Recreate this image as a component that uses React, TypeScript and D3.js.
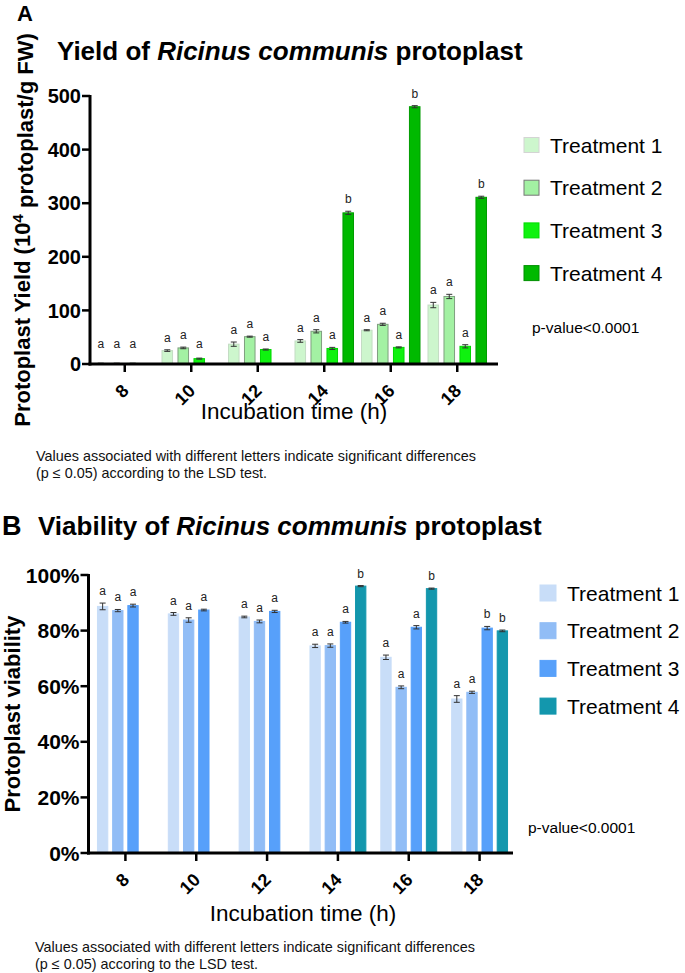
import React from "react";
import * as d3 from "d3";

const FONT = "'Liberation Sans', Arial, Helvetica, sans-serif";

const hours = ["8", "10", "12", "14", "16", "18"];
const treatments = ["Treatment 1", "Treatment 2", "Treatment 3", "Treatment 4"];

// Panel A: protoplast yield (10^4 protoplast / g FW)
const yieldT1 = [1, 25, 37, 43, 63, 110];
const yieldT2 = [1, 30, 51, 61, 74, 126];
const yieldT3 = [1, 10, 27, 29, 31, 33];
const yieldT4 = [null, null, null, 282, 480, 311];
const yieldErrT1 = [0.5, 1.5, 4, 2.5, 1, 5];
const yieldErrT2 = [0.5, 1.5, 1, 3, 2, 4];
const yieldErrT3 = [0.5, 1, 1, 2, 1, 3];
const yieldErrT4 = [null, null, null, 3, 2, 2];
const yieldLetT1 = ["a", "a", "a", "a", "a", "a"];
const yieldLetT2 = ["a", "a", "a", "a", "a", "a"];
const yieldLetT3 = ["a", "a", "a", "a", "a", "a"];
const yieldLetT4 = ["", "", "", "b", "b", "b"];
const yieldTicks = [0, 100, 200, 300, 400, 500];

// Panel B: protoplast viability (%)
const viabT1 = [88.7, 86.0, 84.9, 74.5, 70.4, 55.4];
const viabT2 = [87.2, 83.8, 83.3, 74.6, 59.6, 57.8];
const viabT3 = [89.0, 87.4, 86.9, 83.0, 81.2, 80.9];
const viabT4 = [null, null, null, 96.0, 95.1, 79.9];
const viabErrT1 = [1.2, 0.5, 0.3, 0.6, 0.8, 1.2];
const viabErrT2 = [0.4, 0.8, 0.5, 0.6, 0.5, 0.4];
const viabErrT3 = [0.5, 0.3, 0.4, 0.3, 0.6, 0.6];
const viabErrT4 = [null, null, null, 0.2, 0.2, 0.3];
const viabLetT1 = ["a", "a", "a", "a", "a", "a"];
const viabLetT2 = ["a", "a", "a", "a", "a", "a"];
const viabLetT3 = ["a", "a", "a", "a", "a", "b"];
const viabLetT4 = ["", "", "", "b", "b", "b"];
const viabTicks = [0, 20, 40, 60, 80, 100];

const greenFill = ["#cdf6cd", "#a3f1a3", "#0ff20f", "#00b900"];
const greenStroke = ["#c4dcc4", "#7f9f7f", "#00d800", "#009c00"];
const blueFill = ["#c8ddf8", "#91bdf6", "#57a0fa", "#1397ad"];
const blueStroke = ["#c8ddf8", "#91bdf6", "#57a0fa", "#1397ad"];

function Panel(p: any) {
  const x0 = d3.scaleBand<string>().domain(hours).range(p.xRange);
  const x1 = d3
    .scaleBand<string>()
    .domain(treatments)
    .range([0, p.subSpan])
    .paddingInner(p.subPad);
  const off = (x0.bandwidth() - p.subSpan) / 2;
  const y = d3.scaleLinear().domain(p.yDomain).range(p.yRange);
  const y0 = y(0);
  const axisX = p.xRange[0] - 1.5;
  const bw = x1.bandwidth();

  const bars: any[] = [];
  p.series.forEach((vals: (number | null)[], si: number) => {
    vals.forEach((v, gi) => {
      if (v == null) return;
      const e = p.errors[si][gi] || 0;
      const bx = (x0(hours[gi]) as number) + off + (x1(treatments[si]) as number);
      const cx = bx + bw / 2;
      const yt = y(v);
      bars.push(
        <g key={`b${si}-${gi}`}>
          <rect
            x={bx}
            y={yt}
            width={bw}
            height={y0 - yt}
            fill={p.fills[si]}
            stroke={p.strokes[si]}
            strokeWidth={1}
          />
          <line x1={cx} x2={cx} y1={y(v + e)} y2={y(v - e)} stroke="#333" strokeWidth={1} />
          <line x1={cx - 3} x2={cx + 3} y1={y(v + e)} y2={y(v + e)} stroke="#333" strokeWidth={1} />
          <line x1={cx - 3} x2={cx + 3} y1={y(v - e)} y2={y(v - e)} stroke="#333" strokeWidth={1} />
          {p.letters[si][gi] ? (
            <text
              x={cx}
              y={Math.min(y(v + e) - 8, y0 - 16)}
              textAnchor="middle"
              fontSize={12}
              fill="#222"
            >
              {p.letters[si][gi]}
            </text>
          ) : null}
        </g>
      );
    });
  });

  return (
    <g fontFamily={FONT}>
      {bars}
      {/* y axis */}
      <line x1={axisX} x2={axisX} y1={p.yRange[1] - 1} y2={y0 + 1.5} stroke="#000" strokeWidth={3} />
      {p.yTicks.map((t: number) => (
        <g key={`yt${t}`}>
          <line x1={axisX - 8} x2={axisX} y1={y(t)} y2={y(t)} stroke="#000" strokeWidth={2.5} />
          <text
            x={axisX - 9}
            y={y(t)}
            dy="0.36em"
            textAnchor="end"
            fontSize={p.tickFont}
            fontWeight="bold"
          >
            {p.tickFormat(t)}
          </text>
        </g>
      ))}
      {/* x axis */}
      <line x1={axisX - 1.5} x2={p.xAxisEnd} y1={y0} y2={y0} stroke="#000" strokeWidth={3} />
      {hours.map((h) => {
        const cx = (x0(h) as number) + x0.bandwidth() / 2;
        return (
          <g key={`xt${h}`}>
            <line x1={cx} x2={cx} y1={y0} y2={y0 + 8} stroke="#000" strokeWidth={2.5} />
            <text
              transform={`translate(${cx + 5},${y0 + 28}) rotate(-45)`}
              textAnchor="end"
              fontSize={18}
              fontWeight="bold"
            >
              {h}
            </text>
          </g>
        );
      })}
      <text x={p.xTitleX} y={p.xTitleY} textAnchor="middle" fontSize={22.5}>
        Incubation time (h)
      </text>
      <text
        transform={`translate(${p.yTitleX},${(p.yRange[0] + p.yRange[1]) / 2}) rotate(-90)`}
        textAnchor="middle"
        fontSize={p.yTitleFont}
        fontWeight="bold"
      >
        {p.yTitle}
      </text>
      {/* legend */}
      {treatments.map((t, i) => {
        const cy = p.legendY0 + i * p.legendStep;
        return (
          <g key={`lg${i}`}>
            <rect
              x={p.legendX}
              y={cy - p.legendSq / 2}
              width={p.legendSq}
              height={p.legendSq}
              fill={p.fills[i]}
              stroke={p.legendStrokes[i]}
              strokeWidth={1}
            />
            <text x={p.legendX + p.legendSq + 11} y={cy} dy="0.36em" fontSize={21}>
              {t}
            </text>
          </g>
        );
      })}
      <text x={p.pX} y={p.pY} dy="0.36em" fontSize={15.5}>
        p-value&lt;0.0001
      </text>
      {p.notes.map((n: string, i: number) => (
        <text key={`n${i}`} x={p.noteX} y={p.noteY + i * 17} fontSize={14.4} fill="#111">
          {n}
        </text>
      ))}
    </g>
  );
}

export default function App() {
  return (
    <svg
      width={685}
      height={973}
      viewBox="0 0 685 973"
      style={{ position: "absolute", left: 0, top: 0, background: "#fff" }}
    >
      <rect width={685} height={973} fill="#fff" />
      <g fontFamily={FONT}>
        <text x={17} y={21} fontSize={22} fontWeight="bold">A</text>
        <text x={57} y={60} fontSize={26} fontWeight="bold">
          Yield of <tspan fontStyle="italic">Ricinus communis</tspan> protoplast
        </text>
        <text x={2} y={535} fontSize={27} fontWeight="bold">B</text>
        <text x={38} y={535} fontSize={26} fontWeight="bold">
          Viability of <tspan fontStyle="italic">Ricinus communis</tspan> protoplast
        </text>
      </g>
      <Panel
        series={[yieldT1, yieldT2, yieldT3, yieldT4]}
        errors={[yieldErrT1, yieldErrT2, yieldErrT3, yieldErrT4]}
        letters={[yieldLetT1, yieldLetT2, yieldLetT3, yieldLetT4]}
        fills={greenFill}
        strokes={greenStroke}
        legendStrokes={["#d4d4d4", "#777", "#00dd00", "#009000"]}
        xRange={[91.5, 490.5]}
        xAxisEnd={498}
        subSpan={58.5}
        subPad={0.34}
        yDomain={[0, 500]}
        yRange={[364, 96]}
        yTicks={yieldTicks}
        tickFormat={(t: number) => `${t}`}
        tickFont={20}
        xTitleX={294}
        xTitleY={419}
        yTitleX={30}
        yTitleFont={22}
        yTitle={
          <>
            Protoplast Yield (10<tspan dy="-0.45em" fontSize="0.7em">4</tspan>
            <tspan dy="0.45em"> protoplast/g FW)</tspan>
          </>
        }
        legendX={524}
        legendY0={145}
        legendStep={42.7}
        legendSq={15}
        pX={532}
        pY={327}
        noteX={36}
        noteY={461}
        notes={[
          "Values associated with different letters indicate significant differences",
          "(p \u2264 0.05) according to the LSD test.",
        ]}
      />
      <Panel
        series={[viabT1, viabT2, viabT3, viabT4]}
        errors={[viabErrT1, viabErrT2, viabErrT3, viabErrT4]}
        letters={[viabLetT1, viabLetT2, viabLetT3, viabLetT4]}
        fills={blueFill}
        strokes={blueStroke}
        legendStrokes={blueStroke}
        xRange={[90, 515]}
        xAxisEnd={513}
        subSpan={55.9}
        subPad={0.32}
        yDomain={[0, 100]}
        yRange={[853, 575]}
        yTicks={viabTicks}
        tickFormat={(t: number) => `${t}%`}
        tickFont={21}
        xTitleX={303}
        xTitleY={921}
        yTitleX={20}
        yTitleFont={22}
        yTitle={"Protoplast viability"}
        legendX={540}
        legendY0={593}
        legendStep={37.7}
        legendSq={16}
        pX={528}
        pY={827}
        noteX={35}
        noteY={952}
        notes={[
          "Values associated with different letters indicate significant differences",
          "(p \u2264 0.05) accoring to the LSD test.",
        ]}
      />
    </svg>
  );
}
